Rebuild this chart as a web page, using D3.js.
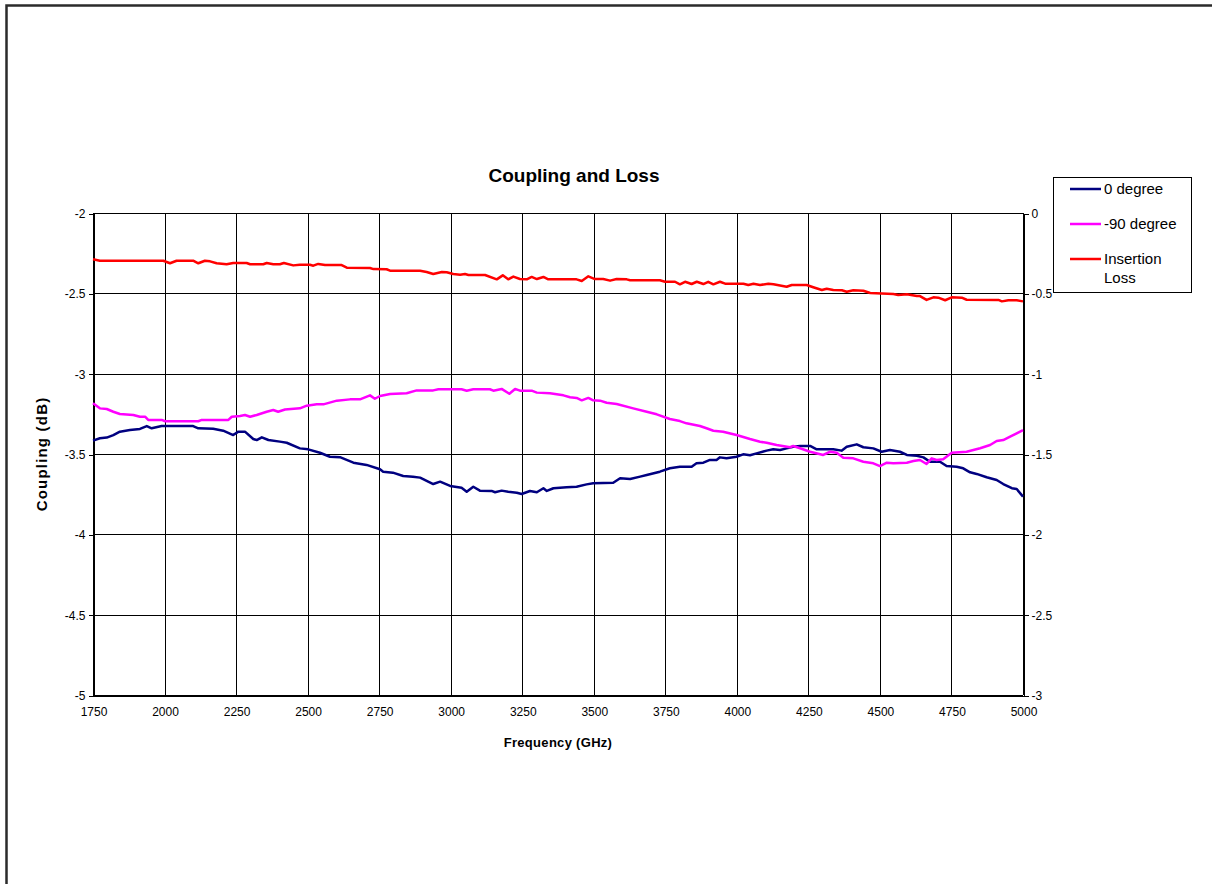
<!DOCTYPE html>
<html>
<head>
<meta charset="utf-8">
<script src="https://cdn.jsdelivr.net/npm/d3@7/dist/d3.min.js"></script>
<style>
  html, body { margin: 0; padding: 0; background: #fff; }
  svg { display: block; font-family: Arial, "Liberation Sans", sans-serif; }
</style>
</head>
<body>
<svg id="chart" width="1212" height="884"></svg>
<script>
// Frequency sweep (values labelled GHz on the axis) and measured curves
const freq0 = [1750,1774,1798,1821,1844,1879,1914,1938,1955,1990,2100,2118,2170,2205,2240,2258,2281,2310,2322,2340,2363,2403,2427,2473,2502,2543,2578,2613,2660,2706,2753,2764,2798,2834,2868,2893,2939,2963,2998,3038,3056,3079,3102,3143,3155,3178,3201,3231,3248,3277,3301,3324,3336,3359,3405,3440,3475,3498,3568,3592,3627,3662,3685,3731,3766,3801,3842,3859,3883,3906,3929,3941,3964,3999,4022,4046,4069,4104,4127,4151,4174,4197,4221,4256,4279,4337,4366,4384,4419,4442,4477,4506,4535,4570,4594,4629,4652,4675,4710,4733,4768,4791,4815,4838,4873,4908,4931,4961,4978,5000];
const coupling0 = [-3.417,-3.402,-3.398,-3.382,-3.361,-3.351,-3.344,-3.326,-3.340,-3.326,-3.326,-3.340,-3.343,-3.355,-3.382,-3.361,-3.361,-3.407,-3.413,-3.396,-3.413,-3.423,-3.430,-3.465,-3.471,-3.492,-3.517,-3.520,-3.554,-3.568,-3.595,-3.610,-3.616,-3.637,-3.641,-3.647,-3.687,-3.672,-3.699,-3.710,-3.735,-3.704,-3.728,-3.730,-3.738,-3.728,-3.735,-3.741,-3.749,-3.730,-3.738,-3.713,-3.730,-3.713,-3.707,-3.704,-3.689,-3.682,-3.679,-3.651,-3.656,-3.641,-3.631,-3.610,-3.589,-3.579,-3.579,-3.558,-3.554,-3.537,-3.537,-3.521,-3.527,-3.517,-3.502,-3.508,-3.496,-3.479,-3.471,-3.475,-3.465,-3.455,-3.450,-3.450,-3.471,-3.471,-3.479,-3.455,-3.440,-3.458,-3.465,-3.486,-3.475,-3.486,-3.506,-3.511,-3.521,-3.548,-3.548,-3.575,-3.579,-3.589,-3.614,-3.624,-3.645,-3.662,-3.687,-3.713,-3.718,-3.765];

const freq90 = [1750,1774,1798,1821,1844,1891,1914,1932,1943,1990,2002,2118,2130,2223,2235,2264,2281,2299,2322,2357,2380,2397,2421,2473,2497,2532,2555,2602,2648,2683,2718,2735,2753,2788,2846,2881,2939,2957,3038,3056,3079,3137,3149,3178,3205,3225,3242,3283,3301,3347,3394,3417,3440,3458,3481,3498,3522,3545,3580,3638,3685,3720,3766,3801,3824,3871,3894,3918,3952,3999,4046,4081,4104,4139,4186,4197,4221,4256,4302,4326,4349,4372,4407,4442,4477,4500,4524,4547,4594,4617,4640,4663,4681,4698,4721,4751,4803,4850,4885,4908,4931,4955,4978,5000];
const coupling90 = [-3.184,-3.216,-3.220,-3.237,-3.251,-3.257,-3.268,-3.268,-3.288,-3.288,-3.296,-3.296,-3.288,-3.288,-3.268,-3.263,-3.257,-3.268,-3.257,-3.237,-3.226,-3.237,-3.223,-3.216,-3.199,-3.191,-3.191,-3.168,-3.160,-3.160,-3.135,-3.156,-3.139,-3.127,-3.122,-3.104,-3.104,-3.097,-3.097,-3.106,-3.097,-3.097,-3.106,-3.095,-3.125,-3.095,-3.106,-3.106,-3.118,-3.122,-3.135,-3.147,-3.151,-3.166,-3.151,-3.166,-3.168,-3.181,-3.189,-3.216,-3.237,-3.253,-3.282,-3.295,-3.309,-3.326,-3.340,-3.355,-3.361,-3.382,-3.407,-3.424,-3.430,-3.444,-3.458,-3.450,-3.464,-3.486,-3.506,-3.486,-3.492,-3.523,-3.527,-3.548,-3.558,-3.575,-3.554,-3.558,-3.554,-3.544,-3.537,-3.562,-3.527,-3.537,-3.533,-3.492,-3.486,-3.464,-3.444,-3.419,-3.413,-3.392,-3.371,-3.351];

const freqLoss = [1750,1774,1996,2019,2042,2100,2118,2141,2159,2182,2217,2240,2287,2299,2345,2357,2380,2403,2417,2450,2473,2508,2520,2537,2561,2619,2637,2718,2730,2776,2788,2893,2916,2939,2969,2986,3009,3033,3050,3062,3120,3161,3182,3201,3219,3242,3266,3283,3301,3324,3341,3440,3458,3481,3504,3533,3557,3580,3615,3627,3731,3749,3784,3801,3819,3842,3860,3883,3900,3918,3941,3959,4023,4040,4058,4081,4110,4128,4174,4192,4244,4267,4297,4314,4337,4367,4384,4407,4442,4466,4547,4564,4594,4629,4640,4663,4687,4704,4728,4751,4786,4803,4914,4926,4949,4978,5000];
const insertionLoss = [-0.288,-0.297,-0.297,-0.313,-0.297,-0.297,-0.313,-0.297,-0.301,-0.313,-0.319,-0.311,-0.311,-0.319,-0.319,-0.311,-0.319,-0.319,-0.311,-0.326,-0.322,-0.322,-0.328,-0.317,-0.324,-0.324,-0.340,-0.342,-0.349,-0.350,-0.359,-0.359,-0.367,-0.380,-0.367,-0.369,-0.380,-0.384,-0.380,-0.386,-0.386,-0.413,-0.388,-0.413,-0.396,-0.411,-0.413,-0.398,-0.411,-0.398,-0.413,-0.413,-0.423,-0.394,-0.411,-0.411,-0.421,-0.411,-0.413,-0.419,-0.419,-0.428,-0.428,-0.444,-0.428,-0.442,-0.428,-0.442,-0.428,-0.444,-0.428,-0.440,-0.440,-0.448,-0.440,-0.448,-0.440,-0.444,-0.459,-0.448,-0.448,-0.462,-0.479,-0.471,-0.479,-0.481,-0.490,-0.481,-0.484,-0.498,-0.504,-0.510,-0.506,-0.517,-0.517,-0.541,-0.525,-0.527,-0.543,-0.525,-0.527,-0.540,-0.541,-0.550,-0.543,-0.543,-0.550];

const xTicks = [1750,2000,2250,2500,2750,3000,3250,3500,3750,4000,4250,4500,4750,5000];
const yLeftTicks = [-2,-2.5,-3,-3.5,-4,-4.5,-5];
const yRightTicks = [0,-0.5,-1,-1.5,-2,-2.5,-3];

const seriesNames = ["0 degree", "-90 degree", "Insertion Loss"];
const seriesColors = ["#000080", "#FF00FF", "#FF0000"];

const svg = d3.select("#chart");

// outer chart frame (runs off the right and bottom of the page)
svg.append("rect")
  .attr("x", 6.5).attr("y", 5.5)
  .attr("width", 1300).attr("height", 1000)
  .attr("fill", "#fff")
  .attr("stroke", "#2b2b2b").attr("stroke-width", 2.5);

const plot = { left: 93, right: 1023, top: 213, bottom: 695 };

const x = d3.scaleLinear().domain([1750, 5000]).range([plot.left, plot.right]);
const yL = d3.scaleLinear().domain([-5, -2]).range([plot.bottom, plot.top]);
const yR = d3.scaleLinear().domain([-3, 0]).range([plot.bottom, plot.top]);

// plain hyphen-minus labels
const plain = d => String(d);

// grid
const grid = svg.append("g").attr("shape-rendering", "crispEdges");
grid.selectAll("line.h").data(yLeftTicks).join("line")
  .attr("x1", plot.left).attr("x2", plot.right)
  .attr("y1", d => Math.round(yL(d)) + 0.5).attr("y2", d => Math.round(yL(d)) + 0.5)
  .attr("stroke", "#000").attr("stroke-width", 1);
grid.selectAll("line.v").data(xTicks).join("line")
  .attr("x1", d => Math.round(x(d)) + 0.5).attr("x2", d => Math.round(x(d)) + 0.5)
  .attr("y1", plot.top).attr("y2", plot.bottom)
  .attr("stroke", "#000").attr("stroke-width", 1);

// axes
const axisFont = 12;
const gLeft = svg.append("g").attr("transform", `translate(${plot.left + 0.5},0.5)`)
  .call(d3.axisLeft(yL).tickValues(yLeftTicks).tickSize(5).tickPadding(3).tickFormat(plain));
const gRight = svg.append("g").attr("transform", `translate(${plot.right + 0.5},0.5)`)
  .call(d3.axisRight(yR).tickValues(yRightTicks).tickSize(5).tickPadding(3).tickFormat(plain));
const gBottom = svg.append("g").attr("transform", `translate(0.5,${plot.bottom + 0.5})`)
  .call(d3.axisBottom(x).tickValues(xTicks).tickSize(0).tickPadding(12).tickFormat(plain));
[gLeft, gRight, gBottom].forEach(g => {
  g.attr("shape-rendering", "crispEdges");
  g.select(".domain").attr("stroke", "#000");
  g.selectAll(".tick line").attr("stroke", "#000");
  g.selectAll("text").attr("font-family", "Arial, 'Liberation Sans', sans-serif")
    .attr("font-size", axisFont).attr("fill", "#000");
});

// curves
const lineL = d3.line().x(d => x(d[0])).y(d => yL(d[1]));
const lineR = d3.line().x(d => x(d[0])).y(d => yR(d[1]));
const curves = [
  { path: lineL(d3.zip(freq0, coupling0)), color: seriesColors[0] },
  { path: lineL(d3.zip(freq90, coupling90)), color: seriesColors[1] },
  { path: lineR(d3.zip(freqLoss, insertionLoss)), color: seriesColors[2] }
];
svg.append("g").selectAll("path").data(curves).join("path")
  .attr("d", d => d.path)
  .attr("fill", "none")
  .attr("stroke", d => d.color)
  .attr("stroke-width", 2.5)
  .attr("stroke-linejoin", "round");

// titles
svg.append("text")
  .attr("x", 574).attr("y", 182)
  .attr("text-anchor", "middle")
  .attr("font-size", 19).attr("font-weight", "bold")
  .text("Coupling and Loss");
svg.append("text")
  .attr("x", 558).attr("y", 747)
  .attr("text-anchor", "middle")
  .attr("font-size", 13).attr("font-weight", "bold")
  .attr("letter-spacing", 0.3)
  .text("Frequency (GHz)");
svg.append("text")
  .attr("transform", `translate(47,${(plot.top + plot.bottom) / 2}) rotate(-90)`)
  .attr("text-anchor", "middle")
  .attr("font-size", 15).attr("font-weight", "bold")
  .attr("letter-spacing", 1.2)
  .text("Coupling (dB)");

// legend
const legend = svg.append("g");
legend.append("rect")
  .attr("x", 1053.5).attr("y", 177.5)
  .attr("width", 138).attr("height", 115)
  .attr("fill", "#fff").attr("stroke", "#000").attr("stroke-width", 1);
const legendRows = [
  { lines: ["0 degree"], y: 189 },
  { lines: ["-90 degree"], y: 224 },
  { lines: ["Insertion", "Loss"], y: 259 }
];
legendRows.forEach((row, i) => {
  legend.append("line")
    .attr("x1", 1070).attr("x2", 1101)
    .attr("y1", row.y).attr("y2", row.y)
    .attr("stroke", seriesColors[i]).attr("stroke-width", 2.5);
  row.lines.forEach((t, j) => {
    legend.append("text")
      .attr("x", 1104).attr("y", row.y + j * 19)
      .attr("dy", "0.35em")
      .attr("font-size", 15)
      .text(t);
  });
});
</script>
</body>
</html>
